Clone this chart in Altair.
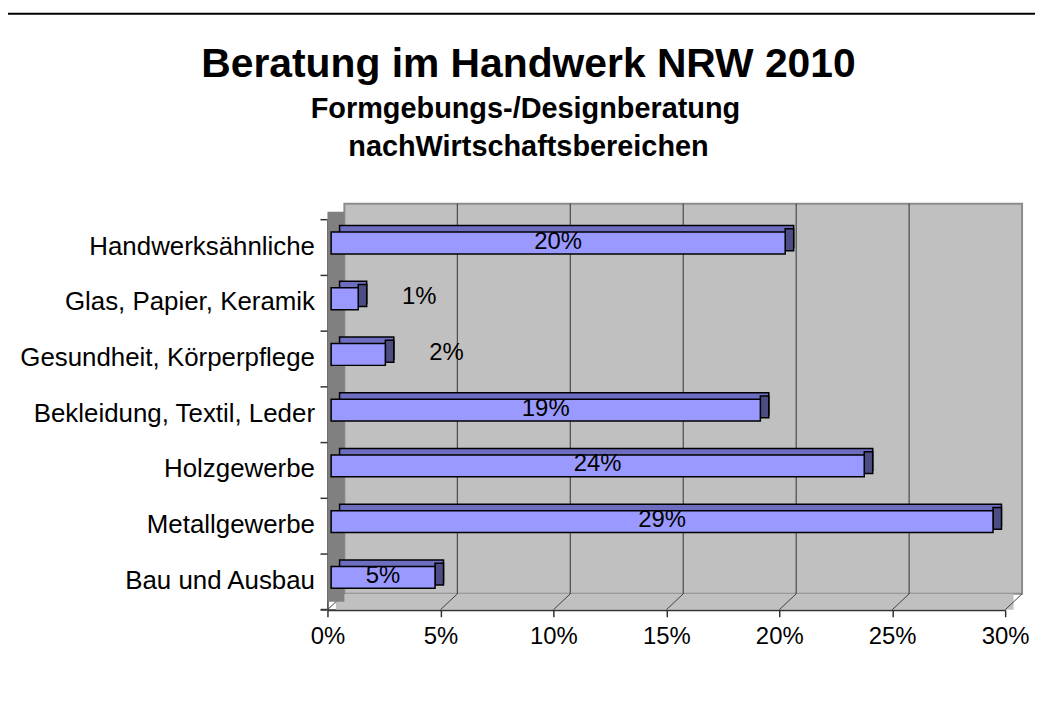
import altair as alt
import pandas as pd

# ---- data ----
categories = [
    "Handwerksähnliche",
    "Glas, Papier, Keramik",
    "Gesundheit, Körperpflege",
    "Bekleidung, Textil, Leder",
    "Holzgewerbe",
    "Metallgewerbe",
    "Bau und Ausbau",
]
values = [20.1, 1.2, 2.4, 19.0, 23.6, 29.3, 4.6]
x_ticks = [0, 5, 10, 15, 20, 25, 30]

title_text = "Beratung im Handwerk NRW 2010"
subtitle_lines = ["Formgebungs-/Designberatung", "nachWirtschaftsbereichen"]

df = pd.DataFrame({"cat": categories, "val": values})
df["lab"] = [f"{round(v):.0f}%" for v in values]
ticks = pd.DataFrame({"t": x_ticks})
one = pd.DataFrame({"a": [0]})

FONT = "Liberation Sans"
W, H = 681, 392
PAD_L, PAD_R = 321, 30
DX, DY = 17, -16          # depth of the walls
BX, BY = 8.5, -6.5         # depth of the bars
FX, FY = 3.7, -4.6         # front face offset of the bars

xs = alt.Scale(domain=[0, 30], nice=False, zero=True)
ys = alt.Scale(domain=categories, paddingInner=0, paddingOuter=0)

X = alt.X("val:Q", scale=xs,
          axis=alt.Axis(values=x_ticks, labelExpr="datum.value + '%'",
                        labelFont=FONT, labelFontSize=24, labelColor="black",
                        tickSize=7, tickColor="#333333", tickWidth=1.5,
                        domainColor="#333333", domainWidth=2,
                        grid=False, labelPadding=8, labelFlush=False, title=None))
Y = alt.Y("cat:N", scale=ys, sort=categories,
          axis=alt.Axis(title=None, ticks=False, labelFont=FONT, labelFontSize=26,
                        labelColor="black", labelPadding=13, labelLimit=400,
                        domainColor="#333333", domainWidth=1.5, labelOffset=-1))

# top edge of the chart-area frame
frame_top = alt.Chart(one).mark_rect(fill="black").encode(
    x=alt.value(-322), x2=alt.value(W + PAD_R + 40), y=alt.value(-208), y2=alt.value(-206))

# back wall
wall = alt.Chart(one).mark_rect(
    fill="#C0C0C0", stroke="#8C8C8C", strokeWidth=2,
    xOffset=DX, x2Offset=DX, yOffset=DY, y2Offset=DY).encode(
    x=alt.datum(0, scale=xs), x2=alt.datum(30), y=alt.value(0), y2=alt.value(H))

# floor
floor = alt.Chart(one).mark_rect(fill="#C0C0C0", xOffset=DX / 2, x2Offset=DX / 2).encode(
    x=alt.datum(0, scale=xs), x2=alt.datum(30), y=alt.value(H + DY), y2=alt.value(H))

floor_lines = alt.Chart(ticks).mark_rule(color="#404040", strokeWidth=1, x2Offset=DX).encode(
    x=alt.X("t:Q", scale=xs), x2="t:Q", y=alt.value(H), y2=alt.value(H + DY))

grid = alt.Chart(ticks).transform_filter("datum.t > 0 && datum.t < 30").mark_rule(
    color="#333333", strokeWidth=1, xOffset=DX, yOffset=DY, y2Offset=DY).encode(
    x=alt.X("t:Q", scale=xs), y=alt.value(0), y2=alt.value(H))

# left wall
left_wall = alt.Chart(one).mark_rect(fill="#808080", yOffset=DY / 2, y2Offset=DY / 2).encode(
    x=alt.value(0), x2=alt.value(DX), y=alt.value(0), y2=alt.value(H))

# y ticks at category boundaries
yticks = alt.Chart(df).mark_rule(color="#333333", strokeWidth=1.5).encode(
    y=alt.Y("cat:N", scale=ys, sort=categories, bandPosition=0),
    x=alt.value(-7), x2=alt.value(0))
ytick_end = alt.Chart(one).mark_rule(color="#333333", strokeWidth=2).encode(
    y=alt.value(H), x=alt.value(-7), x2=alt.value(0))

# 3D bars
bar_back = alt.Chart(df).mark_bar(
    size=22, fill="#6E6EC0", stroke="black", strokeWidth=1.5,
    xOffset=FX + BX, x2Offset=FX + BX, yOffset=FY + BY).encode(
    x=X, x2=alt.datum(0), y=Y)
bar_side = alt.Chart(df).mark_bar(
    size=22, fill="#4D4D85", stroke="black", strokeWidth=1.5,
    xOffset=FX, x2Offset=FX + BX, yOffset=FY + BY / 2).encode(
    x=alt.X("val:Q", scale=xs), x2="val:Q", y=alt.Y("cat:N", scale=ys, sort=categories))
bar_front = alt.Chart(df).mark_bar(
    size=22, fill="#9999FF", stroke="black", strokeWidth=1.5,
    xOffset=FX, x2Offset=FX, yOffset=FY).encode(
    x=alt.X("val:Q", scale=xs), x2=alt.datum(0), y=alt.Y("cat:N", scale=ys, sort=categories))

lab_in = alt.Chart(df).transform_filter("datum.val >= 3").transform_calculate(
    mid="datum.val / 2").mark_text(
    font=FONT, fontSize=24, color="black", baseline="middle", align="center",
    dx=FX, dy=-6).encode(
    x=alt.X("mid:Q", scale=xs), y=alt.Y("cat:N", scale=ys, sort=categories), text="lab:N")
lab_out = alt.Chart(df).transform_filter("datum.val < 3").mark_text(
    font=FONT, fontSize=24, color="black", baseline="middle", align="left",
    dx=FX + 44, dy=-6).encode(
    x=alt.X("val:Q", scale=xs), y=alt.Y("cat:N", scale=ys, sort=categories), text="lab:N")

# titles
t_main = alt.Chart(one).mark_text(
    text=title_text, font=FONT, fontSize=41, fontWeight="bold", color="black",
    align="center", baseline="alphabetic").encode(x=alt.value(202), y=alt.value(-143))
t_sub1 = alt.Chart(one).mark_text(
    text=subtitle_lines[0], font=FONT, fontSize=29, fontWeight="bold", color="black",
    align="center", baseline="alphabetic").encode(x=alt.value(199), y=alt.value(-102))
t_sub2 = alt.Chart(one).mark_text(
    text=subtitle_lines[1], font=FONT, fontSize=29, fontWeight="bold", color="black",
    align="center", baseline="alphabetic").encode(x=alt.value(202), y=alt.value(-64))

chart = alt.layer(
    frame_top, wall, floor, floor_lines, grid, left_wall,
    bar_back, bar_side, bar_front, lab_in, lab_out,
    yticks, ytick_end, t_main, t_sub1, t_sub2,
).properties(
    width=W, height=H,
    autosize=alt.AutoSizeParams(type="none"),
    padding={"left": PAD_L, "top": 211, "right": PAD_R, "bottom": 100},
    background="white",
).configure_view(stroke=None)

chart.save("out.html", embed_options={"renderer": "svg", "actions": False})
